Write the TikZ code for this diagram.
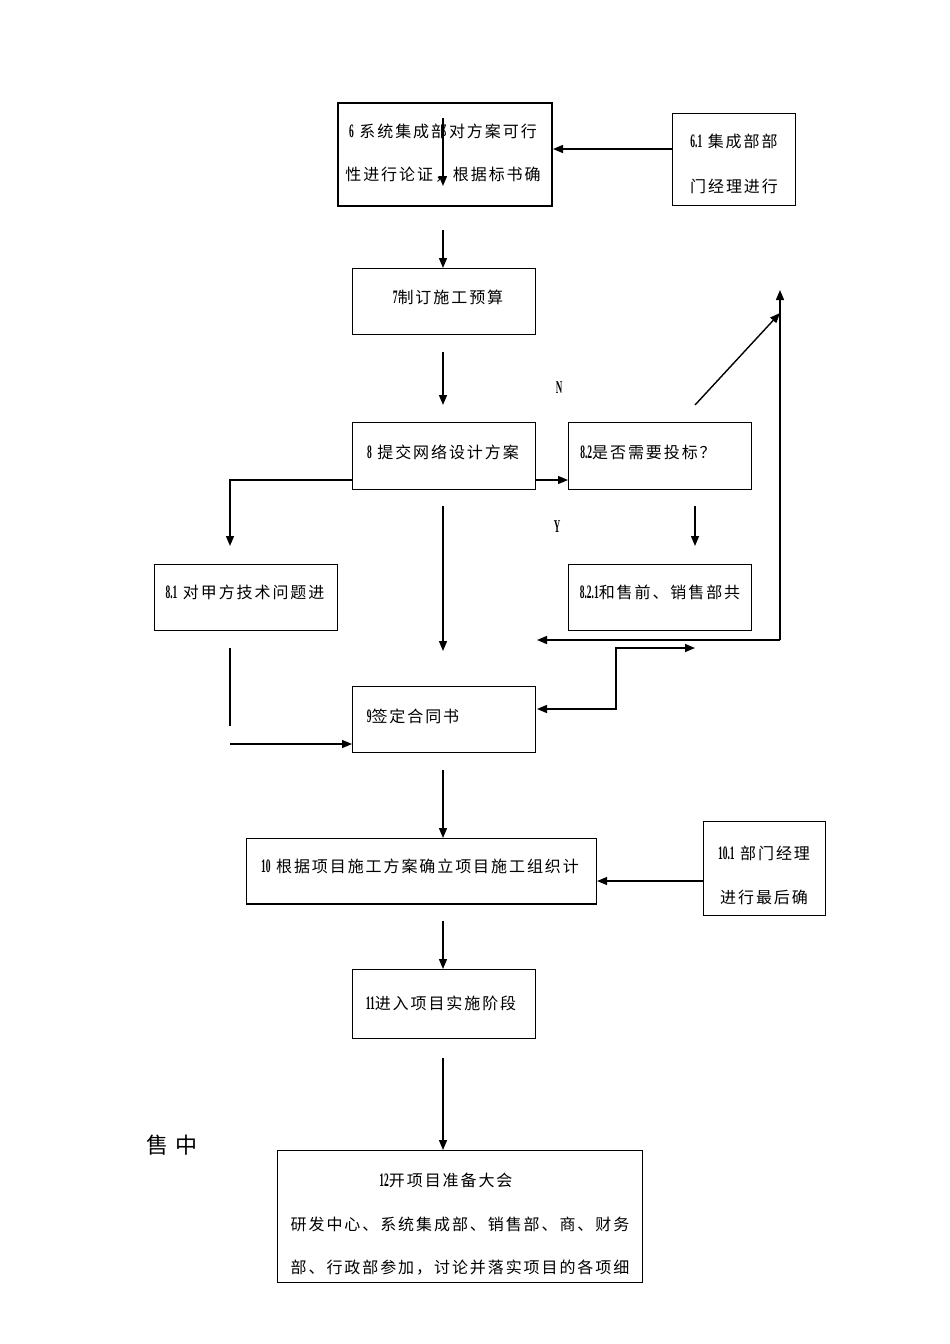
\documentclass[tikz,border=0pt]{standalone}
\usepackage{fontspec}
\setmainfont{Liberation Serif}
\newfontfamily\cjk[LetterSpace=12]{Noto Sans CJK SC}
\usetikzlibrary{arrows.meta}
\newcommand{\nb}[1]{\scalebox{0.5}[1]{\rmfamily\bfseries\fontsize{19}{19}\selectfont #1}}
\tikzset{
  box/.style={draw, line width=1.1pt, inner sep=0pt, anchor=north west},
  txt/.style={inner sep=0pt, font=\cjk\fontsize{16}{16}\selectfont},
  arr/.style={line width=1.4pt, -{Triangle[length=10pt,width=8pt]}},
  darr/.style={line width=1.4pt, {Triangle[length=10pt,width=8pt]}-{Triangle[length=10pt,width=8pt]}},
  ln/.style={line width=1.4pt},
  yn/.style={inner sep=0pt, font=\rmfamily\bfseries\fontsize{18}{18}\selectfont, xscale=0.5}
}
\begin{document}
\begin{tikzpicture}[x=1pt,y=-1pt]
\useasboundingbox[fill=white] (0,0) rectangle (950,1344);

% boxes
\node[box, line width=2pt, minimum width=214pt, minimum height=103pt] (b6) at (337,102) {};
\node[box, minimum width=123pt, minimum height=92pt] (b61) at (672,113) {};
\node[box, minimum width=183pt, minimum height=66pt] (b7) at (352,268) {};
\node[box, minimum width=183pt, minimum height=67pt] (b8) at (352,422) {};
\node[box, minimum width=183pt, minimum height=67pt] (b82) at (568,422) {};
\node[box, minimum width=183pt, minimum height=66pt] (b821) at (568,564) {};
\node[box, minimum width=183pt, minimum height=66pt] (b81) at (154,564) {};
\node[box, minimum width=183pt, minimum height=66pt] (b9) at (352,686) {};
\node[box, minimum width=350pt, minimum height=65pt] (b10) at (246,838) {};
\node[box, minimum width=122pt, minimum height=94pt] (b101) at (703,821) {};
\node[box, minimum width=183pt, minimum height=69pt] (b11) at (352,969) {};
\node[box, minimum width=365pt, minimum height=132pt] (b12) at (277,1150) {};
\draw[line width=2pt] (b10.south west) -- (b10.south east);

% texts
\node[txt] (t6a) at (443,131) {\nb{6} 系统集成部对方案可行};
\node[txt] (t6b) at (443,175) {性进行论证，根据标书确};
\node[txt] (t61a) at (734,141) {\nb{6.1} 集成部部};
\node[txt] (t61b) at (734,186) {门经理进行};
\node[txt] (t7) at (448,297) {\nb{7}制订施工预算};
\node[txt] (t8) at (443,452) {\nb{8} 提交网络设计方案};
\node[txt] (t82) at (648,452) {\nb{8.2}是否需要投标？};
\node[txt] (t821) at (660,592) {\nb{8.2.1}和售前、销售部共};
\node[txt] (t81) at (245,592) {\nb{8.1} 对甲方技术问题进};
\node[txt] (t9) at (413,716) {\nb{9}签定合同书};
\node[txt] (t10) at (420,866) {\nb{10} 根据项目施工方案确立项目施工组织计};
\node[txt] (t101a) at (764,853) {\nb{10.1} 部门经理};
\node[txt] (t101b) at (764,897) {进行最后确};
\node[txt] (t11) at (441,1003) {\nb{11}进入项目实施阶段};
\node[txt] (t12a) at (446,1180) {\nb{12}开项目准备大会};
\node[txt] (t12b) at (460,1224) {研发中心、系统集成部、销售部、商、财务};
\node[txt] (t12c) at (460,1268) {部、行政部参加，讨论并落实项目的各项细};
\node[txt, font=\cjk\fontsize{22}{22}\selectfont] (sz) at (172,1145) {售 中};
\node[yn] (lN) at (559,388) {N};
\node[yn] (lY) at (557,527) {Y};

% coordinates
\coordinate (y149) at (0,149);
\coordinate (y480) at (0,480);
\coordinate (y881) at (0,881);
\coordinate (y744) at (0,744);
\coordinate (a6s) at (443,118);
\coordinate (a6e) at (443,186);
\coordinate (a7s) at (443,230);
\coordinate (a8s) at (443,352);
\coordinate (a8e) at (443,405);
\coordinate (dS) at (695,405);
\coordinate (dE) at (780,313);
\coordinate (vB) at (780,640);
\coordinate (vT) at (780,290);
\coordinate (hL) at (537,640);
\coordinate (a821s) at (695,506);
\coordinate (a821e) at (695,546);
\coordinate (l81c) at (230,480);
\coordinate (l81e) at (230,546);
\coordinate (a9s) at (443,506);
\coordinate (a9e) at (443,651);
\coordinate (dL) at (537,709);
\coordinate (dM1) at (616,709);
\coordinate (dM2) at (616,648);
\coordinate (dR) at (695,648);
\coordinate (v81s) at (230,648);
\coordinate (v81e) at (230,726);
\coordinate (h9s) at (230,744);
\coordinate (a10s) at (443,770);
\coordinate (a11s) at (443,921);
\coordinate (a12s) at (443,1058);

% connectors
\draw[arr] (a6s) -- (a6e);
\draw[arr] (b61.west |- y149) -- (b6.east |- y149);
\draw[arr] (a7s) -- (a7s |- b7.north);
\draw[arr] (a8s) -- (a8e);
\draw[arr] (b8.east |- y480) -- (b82.west |- y480);
\draw[arr] (dS) -- (dE);
\draw[arr] (vB) -- (vT);
\draw[arr] (vB) -- (hL);
\draw[arr] (a821s) -- (a821e);
\draw[arr] (b8.west |- y480) -- (l81c) -- (l81e);
\draw[arr] (a9s) -- (a9e);
\draw[darr] (dL) -- (dM1) -- (dM2) -- (dR);
\draw[ln] (v81s) -- (v81e);
\draw[arr] (h9s) -- (b9.west |- y744);
\draw[arr] (a10s) -- (a10s |- b10.north);
\draw[arr] (b101.west |- y881) -- (b10.east |- y881);
\draw[arr] (a11s) -- (a11s |- b11.north);
\draw[arr] (a12s) -- (a12s |- b12.north);
\end{tikzpicture}
\end{document}
